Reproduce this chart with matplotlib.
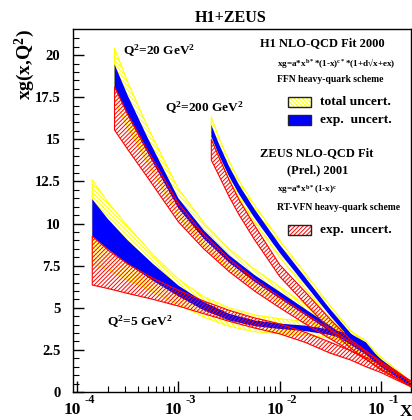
import numpy as np
import matplotlib
matplotlib.use("Agg")
import matplotlib.pyplot as plt
from matplotlib.patches import Rectangle
from matplotlib.transforms import offset_copy, blended_transform_factory

plt.rcParams['font.family'] = ['Liberation Serif', 'DejaVu Serif']
plt.rcParams['font.weight'] = 'bold'
plt.rcParams['mathtext.fontset'] = 'custom'
plt.rcParams['mathtext.rm'] = 'Liberation Serif:bold'
plt.rcParams['mathtext.bf'] = 'Liberation Serif:bold'
plt.rcParams['mathtext.it'] = 'Liberation Serif:bold:italic'
plt.rcParams['mathtext.default'] = 'bf'
plt.rcParams['hatch.linewidth'] = 0.7

# -----------------------------
# DATA (log10 x knots, band edges)
# -----------------------------

# Q2 = 5 GeV2
lx_q5 = [-3.85, -3.7, -3.5, -3.25, -3.0, -2.75, -2.5, -2.25, -2.0, -1.75,
         -1.5, -1.3, -1.15, -1.0, -0.85, -0.7]
h1_tot_q5_lo = [7.6, 7.3, 6.65, 5.95, 5.2, 4.45, 3.9, 3.58, 3.45, 3.38,
                3.2, 2.9, 2.45, 1.48, 0.88, 0.28]
h1_tot_q5_hi = [12.6, 11.3, 9.85, 8.15, 6.7, 5.65, 5.0, 4.58, 4.35, 4.18,
                3.9, 3.6, 3.05, 1.92, 1.22, 0.52]
h1_exp_q5_lo = [9.25, 8.5, 7.6, 6.6, 5.68, 4.85, 4.25, 3.91, 3.74, 3.62,
                3.38, 3.05, 2.55, 1.55, 0.93, 0.32]
h1_exp_q5_hi = [11.45, 10.3, 9.0, 7.6, 6.32, 5.35, 4.65, 4.25, 4.06, 3.94,
                3.72, 3.45, 2.95, 1.85, 1.17, 0.48]
zeus_q5_lo = [6.35, 6.15, 5.85, 5.5, 5.1, 4.65, 4.2, 3.8, 3.45, 2.95,
              2.3, 1.9, 1.5, 1.15, 0.72, 0.3]
zeus_q5_hi = [9.25, 8.45, 7.6, 6.75, 6.05, 5.4, 4.85, 4.4, 4.05, 3.55,
              2.95, 2.45, 2.05, 1.6, 1.12, 0.65]

# Q2 = 20 GeV2
lx_q20 = [-3.63, -3.5, -3.3, -3.0, -2.75, -2.5, -2.25, -2.0, -1.75, -1.5,
          -1.3, -1.15, -1.0, -0.85, -0.7]
h1_tot_q20_lo = [17.3, 15.7, 13.6, 10.45, 8.7, 7.35, 6.25, 5.3, 4.35, 3.4,
                 2.65, 2.1, 1.4, 0.85, 0.25]
h1_tot_q20_hi = [20.4, 18.4, 15.7, 12.05, 10.05, 8.5, 7.3, 6.25, 5.2, 4.15,
                 3.3, 2.65, 1.85, 1.18, 0.47]
h1_exp_q20_lo = [18.1, 16.4, 14.15, 10.9, 9.1, 7.68, 6.55, 5.55, 4.57, 3.58,
                 2.8, 2.22, 1.48, 0.9, 0.28]
h1_exp_q20_hi = [19.45, 17.6, 15.05, 11.5, 9.6, 8.12, 6.95, 5.95, 4.93, 3.92,
                 3.1, 2.48, 1.72, 1.1, 0.42]
zeus_q20_lo = [15.55, 14.4, 12.7, 10.1, 8.5, 7.15, 6.0, 5.0, 4.05, 3.15,
               2.45, 1.95, 1.3, 0.8, 0.3]
zeus_q20_hi = [18.1, 16.5, 14.3, 11.2, 9.35, 7.9, 6.7, 5.65, 4.65, 3.7,
               2.95, 2.4, 1.72, 1.18, 0.6]

# Q2 = 200 GeV2
lx_q200 = [-2.675, -2.6, -2.5, -2.4, -2.25, -2.0, -1.75, -1.5, -1.3, -1.15,
           -1.0, -0.85, -0.7]
h1_tot_q200_lo = [15.0, 13.9, 12.6, 11.5, 10.1, 8.0, 6.15, 4.3, 2.95, 2.3,
                  1.55, 0.95, 0.3]
h1_tot_q200_hi = [16.33, 15.1, 13.7, 12.52, 11.1, 9.0, 7.05, 5.1, 3.65, 2.9,
                  2.05, 1.35, 0.55]
h1_exp_q200_lo = [15.15, 14.07, 12.8, 11.72, 10.34, 8.26, 6.38, 4.5, 3.12,
                  2.44, 1.66, 1.03, 0.34]
h1_exp_q200_hi = [15.85, 14.73, 13.4, 12.28, 10.86, 8.74, 6.82, 4.9, 3.48,
                  2.76, 1.94, 1.27, 0.5]
zeus_q200_lo = [13.76, 12.85, 11.6, 10.5, 9.05, 6.85, 5.25, 3.7, 2.6, 1.95,
                1.35, 0.85, 0.3]
zeus_q200_hi = [14.99, 13.95, 12.6, 11.4, 9.9, 7.55, 5.95, 4.3, 3.1, 2.45,
                1.8, 1.25, 0.62]

yticks = [0, 2.5, 5, 7.5, 10, 12.5, 15, 17.5, 20]
ytick_labels = ['0', '2.5', '5', '7.5', '10', '12.5', '15', '17.5', '20']
xdecades = [-4, -3, -2, -1]

YELLOW = '#ffff00'
BLUE = '#0000ff'
RED = '#ff0000'
HATCH_Y = '\\' * 8
HATCH_R = '/' * 8

W, H = 412, 420


def fx(px):
    return px / W


def fy(py):
    return 1 - py / H


fig = plt.figure(figsize=(4.12, 4.20), dpi=100)
ax = fig.add_axes([fx(73), fy(392), (411 - 73) / W, (392 - 29) / H])

bands = [
    (lx_q5, h1_tot_q5_lo, h1_tot_q5_hi, h1_exp_q5_lo, h1_exp_q5_hi,
     zeus_q5_lo, zeus_q5_hi),
    (lx_q20, h1_tot_q20_lo, h1_tot_q20_hi, h1_exp_q20_lo, h1_exp_q20_hi,
     zeus_q20_lo, zeus_q20_hi),
    (lx_q200, h1_tot_q200_lo, h1_tot_q200_hi, h1_exp_q200_lo, h1_exp_q200_hi,
     zeus_q200_lo, zeus_q200_hi),
]

for lx, tlo, thi, elo, ehi, zlo, zhi in bands:
    x = 10.0 ** np.array(lx)
    # H1 total uncertainty: yellow hatch
    ax.fill_between(x, tlo, thi, facecolor='none', edgecolor=YELLOW,
                    hatch=HATCH_Y, linewidth=0.8, zorder=2)
    # H1 experimental uncertainty: solid blue
    ax.fill_between(x, elo, ehi, facecolor=BLUE, edgecolor='none',
                    linewidth=0, zorder=3)
    # ZEUS experimental uncertainty: red hatch
    ax.fill_between(x, zlo, zhi, facecolor='none', edgecolor=RED,
                    hatch=HATCH_R, linewidth=0.8, zorder=4)

ax.set_xscale('log')
ax.set_xlim(10 ** -4.04, 10 ** -0.705)
ax.set_ylim(0, 21.55)

ax.set_yticks(yticks)
ax.set_yticklabels(ytick_labels, fontsize=10.5, fontweight='bold')
ax.set_yticks(np.arange(0, 21.5, 0.5), minor=True)
ax.set_xticks([10.0 ** d for d in xdecades])
ax.set_xticklabels([])
ax.tick_params(which='both', direction='in', top=False, right=False)
ax.tick_params(which='major', length=8, width=1, pad=9)
ax.tick_params(which='minor', length=4, width=0.8)
ax.tick_params(axis='x', which='minor', labelbottom=False)
for s in ax.spines.values():
    s.set_linewidth(1)

# decade labels in ROOT style: 10 with raised exponent
trans = blended_transform_factory(ax.transData, ax.transAxes)
for d in xdecades:
    t10 = offset_copy(trans, fig=fig, x=4, y=0, units='dots')
    ax.text(10.0 ** d, -0.05, '10', transform=t10, ha='right', va='center',
            fontsize=12.5, fontweight='bold', clip_on=False)
    tex = offset_copy(trans, fig=fig, x=7, y=0, units='dots')
    ax.text(10.0 ** d, -0.022, str(d), transform=tex, ha='left',
            va='center', fontsize=9, fontweight='bold', clip_on=False)

fig.text(fx(406), fy(412), 'X', ha='center', va='center', fontsize=12.5)
fig.text(fx(25), fy(65), 'xg(x,Q$^2$)', rotation=90, ha='center',
         va='center', fontsize=14)
fig.text(fx(231), fy(18), 'H1+ZEUS', ha='center', va='center', fontsize=11.5)

fig.text(fx(123), fy(51), 'Q$^2$=20 GeV$^2$', ha='left', va='center',
         fontsize=9.6)
fig.text(fx(165), fy(108), 'Q$^2$=200 GeV$^2$', ha='left', va='center',
         fontsize=9.6)
fig.text(fx(107), fy(322), 'Q$^2$=5 GeV$^2$', ha='left', va='center',
         fontsize=9.6)

fig.text(fx(260), fy(43), 'H1 NLO-QCD Fit 2000', ha='left', va='center',
         fontsize=9)
fig.text(fx(277), fy(63), 'xg=a*x$^{b*}$*(1-x)$^{c*}$*(1+d\u221ax+ex)',
         ha='left', va='center', fontsize=6.6)
fig.text(fx(277), fy(80), 'FFN heavy-quark scheme', ha='left', va='center',
         fontsize=6.9)
fig.text(fx(260), fy(153), 'ZEUS NLO-QCD Fit', ha='left', va='center',
         fontsize=9)
fig.text(fx(287), fy(170), '(Prel.) 2001', ha='left', va='center',
         fontsize=9)
fig.text(fx(277), fy(190), 'xg=a*x$^{b*}$(1-x)$^{c}$', ha='left',
         va='center', fontsize=6.6)
fig.text(fx(277), fy(207), 'RT-VFN heavy-quark scheme', ha='left',
         va='center', fontsize=6.9)

# legend boxes
legend_rows = [
    (102, 'total uncert.', 'white', YELLOW, HATCH_Y),
    (120, 'exp.  uncert.', BLUE, BLUE, None),
    (230, 'exp.  uncert.', 'white', RED, HATCH_R),
]
for yc, label, face, hcol, hatch in legend_rows:
    box = (fx(288), fy(yc + 5)), fx(311) - fx(288), fy(yc - 5) - fy(yc + 5)
    fig.patches.append(Rectangle(*box, transform=fig.transFigure,
                                 facecolor=face, edgecolor=hcol,
                                 hatch=hatch, linewidth=0))
    fig.patches.append(Rectangle(*box, transform=fig.transFigure,
                                 facecolor='none', edgecolor='#222222',
                                 linewidth=1))
    fig.text(fx(320), fy(yc), label, ha='left', va='center', fontsize=9.7)

fig.savefig('out.png', dpi=100)
